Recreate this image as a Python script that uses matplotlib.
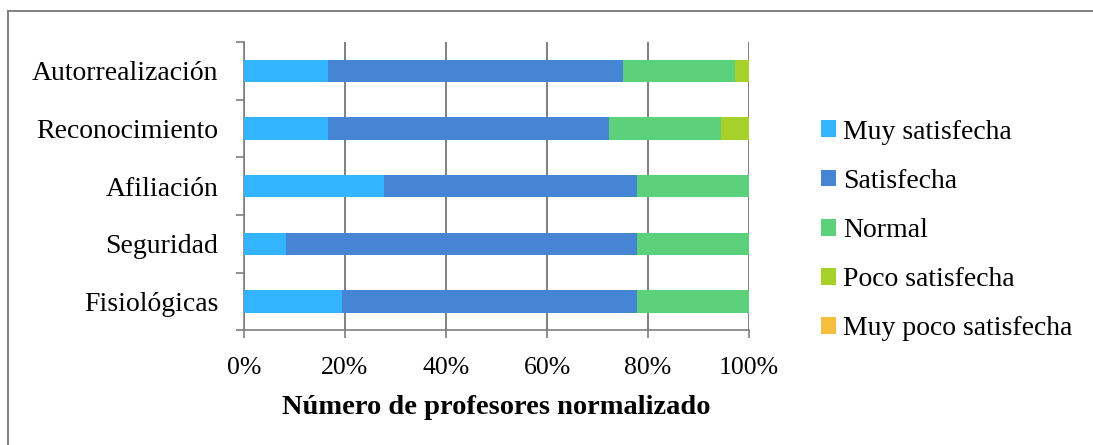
import numpy as np
import matplotlib.pyplot as plt
from matplotlib.lines import Line2D
from matplotlib.patches import Patch

plt.rcParams['font.family'] = ['Liberation Serif', 'DejaVu Serif']

categorias = ['Fisiológicas', 'Seguridad', 'Afiliación', 'Reconocimiento', 'Autorrealización']
series = ['Muy satisfecha', 'Satisfecha', 'Normal', 'Poco satisfecha', 'Muy poco satisfecha']
colores = ['#33b4ff', '#4684d4', '#5cd07a', '#a6d12a', '#f5be3e']

# numero de profesores por nivel (36 en total por categoria)
muy_satisfecha = [7, 3, 10, 6, 6]
satisfecha = [21, 25, 18, 20, 21]
normal = [8, 8, 8, 8, 8]
poco_satisfecha = [0, 0, 0, 2, 1]
muy_poco_satisfecha = [0, 0, 0, 0, 0]

datos = np.array([muy_satisfecha, satisfecha, normal, poco_satisfecha, muy_poco_satisfecha], dtype=float)
datos = datos / datos.sum(axis=0)

fig = plt.figure(figsize=(10.93, 4.45), dpi=100)
ax = fig.add_axes([0.2232, 0.2575, 0.4621, 0.648])

y = np.arange(len(categorias))
izq = np.zeros(len(categorias))
for fila, nombre, color in zip(datos, series, colores):
    ax.barh(y, fila, left=izq, height=0.39, color=color, label=nombre, zorder=3)
    izq += fila

ax.set_xlim(0, 1)
ax.set_ylim(-0.5, len(categorias) - 0.5)
ax.set_xticks(np.linspace(0, 1, 6))
ax.set_xticklabels(['0%', '20%', '40%', '60%', '80%', '100%'], fontsize=18.5)
ax.set_yticks(np.arange(-0.5, len(categorias)))
ax.set_yticklabels([])
ax.set_yticks(y, minor=True)
ax.set_yticklabels(categorias, minor=True, fontsize=20)
ax.tick_params(axis='y', which='minor', length=0, pad=18.5)
ax.tick_params(axis='y', which='major', length=6, width=1.2, color='#7f7f7f')
ax.tick_params(axis='x', length=6, width=1.2, color='#7f7f7f', pad=13)
ax.xaxis.grid(True, color='#7f7f7f', linewidth=1.4, zorder=0)
ax.set_axisbelow(True)
for s in ['top', 'right']:
    ax.spines[s].set_visible(False)
for s in ['left', 'bottom']:
    ax.spines[s].set_color('#7f7f7f')
    ax.spines[s].set_linewidth(1.2)
ax.set_xlabel('Número de profesores normalizado', fontsize=20.5, fontweight='bold', labelpad=12)

handles = [Patch(facecolor=c, edgecolor='none') for c in colores]
fig.legend(handles, series, loc='center left', bbox_to_anchor=(0.751, 0.482), frameon=False,
           fontsize=20, handlelength=0.55, handleheight=0.55, handletextpad=0.25,
           labelspacing=0.87, borderpad=0, borderaxespad=0)

# marco del grafico
fig.add_artist(Line2D([8 / 1093, 8 / 1093], [0, 1 - 11 / 445], transform=fig.transFigure, color='#7f7f7f', lw=1.4))
fig.add_artist(Line2D([8 / 1093, 1], [1 - 11 / 445, 1 - 11 / 445], transform=fig.transFigure, color='#7f7f7f', lw=1.4))

fig.savefig('out.png', dpi=100)
